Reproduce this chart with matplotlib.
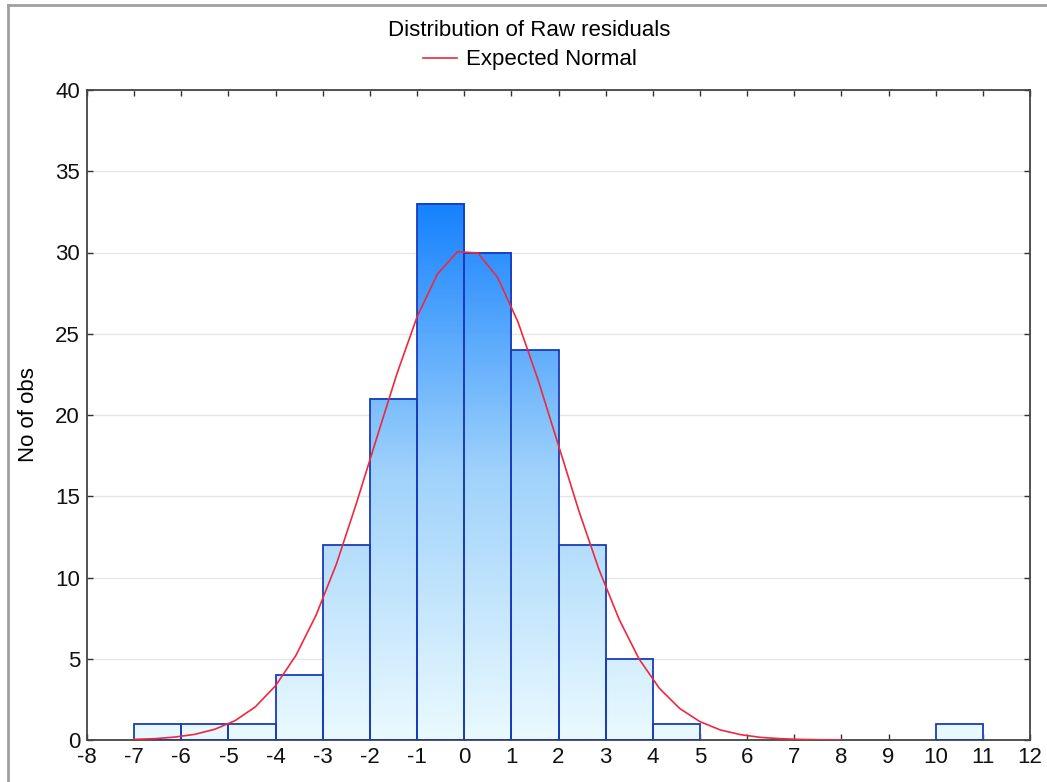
import matplotlib
matplotlib.use("Agg")
import matplotlib.pyplot as plt
import numpy as np
from matplotlib.colors import LinearSegmentedColormap
from matplotlib.lines import Line2D

plt.rcParams['font.family'] = ['Liberation Sans', 'DejaVu Sans']
plt.rcParams['axes.unicode_minus'] = False

# histogram of raw residuals (bin left edges, width 1)
bin_left = [-7, -6, -5, -4, -3, -2, -1, 0, 1, 2, 3, 4, 10]
counts = [1, 1, 1, 4, 12, 21, 33, 30, 24, 12, 5, 1, 1]

# expected normal curve
curve_x = [-7.00, -6.57, -6.14, -5.71, -5.29, -4.86, -4.43, -4.00, -3.57, -3.14,
           -2.71, -2.29, -1.86, -1.43, -1.00, -0.57, -0.14, 0.29, 0.71, 1.14,
           1.57, 2.00, 2.43, 2.86, 3.29, 3.71, 4.14, 4.57, 5.00, 5.43,
           5.86, 6.29, 6.71, 7.14, 7.57, 8.00]
curve_y = [0.04, 0.08, 0.18, 0.35, 0.66, 1.19, 2.04, 3.34, 5.20, 7.69,
           10.83, 14.53, 18.54, 22.51, 26.04, 28.67, 30.05, 29.97, 28.46, 25.73,
           22.13, 18.13, 14.12, 10.48, 7.40, 4.98, 3.18, 1.94, 1.13, 0.62,
           0.33, 0.16, 0.08, 0.035, 0.015, 0.006]

xticks = list(range(-8, 13))
yticks = [0, 5, 10, 15, 20, 25, 30, 35, 40]

fig = plt.figure(figsize=(10.47, 7.82), dpi=100)
ax = fig.add_axes([87 / 1047, 1 - 740 / 782, (1030 - 87) / 1047, (740 - 90) / 782])

# vertical gradient, same scale for every bar
cmap = LinearSegmentedColormap.from_list('bars', ['#eafaff', '#9fd2fb', '#1682fe'])
top = max(counts)
for x0, c in zip(bin_left, counts):
    grad = np.linspace(c, 0, 200).reshape(-1, 1)
    ax.imshow(grad, extent=[x0, x0 + 1, 0, c], aspect='auto', cmap=cmap,
              vmin=0, vmax=top, zorder=2, interpolation='bilinear')
ax.bar(bin_left, counts, width=1, align='edge', facecolor='none',
       edgecolor='#1a3cbc', linewidth=1.3, zorder=3)

ax.plot(curve_x, curve_y, color='#f0283c', linewidth=1.2, zorder=4)

ax.set_xlim(-8, 12)
ax.set_ylim(0, 40)
ax.set_xticks(xticks)
ax.set_yticks(yticks)
ax.tick_params(direction='in', length=4, width=1, top=True, right=True,
               labelsize=16, colors='#333333', labelcolor='#111111', pad=5)
ax.yaxis.grid(True, color='#e6e6e6', linewidth=1)
ax.set_axisbelow(True)
for s in ax.spines.values():
    s.set_color('#444444')
    s.set_linewidth(1.3)

ax.set_ylabel('No of obs', fontsize=16, labelpad=12)

fig.text(529 / 1047, 1 - 30 / 782, 'Distribution of Raw residuals',
         ha='center', va='center', fontsize=16)
handle = Line2D([], [], color='#f0283c', linewidth=1.2)
fig.legend([handle], ['Expected Normal'], loc='center',
           bbox_to_anchor=(530 / 1047, 1 - 60 / 782), frameon=False,
           fontsize=16, handlelength=1.5, handletextpad=0.4)

# grey frame of the original window
fig.add_artist(Line2D([8 / 1047, 8 / 1047], [0, 1 - 5 / 782], color='#a0a0a0',
                      linewidth=2, transform=fig.transFigure))
fig.add_artist(Line2D([8 / 1047, 1], [1 - 5 / 782, 1 - 5 / 782], color='#a0a0a0',
                      linewidth=2, transform=fig.transFigure))

fig.savefig('out.png', dpi=100)
